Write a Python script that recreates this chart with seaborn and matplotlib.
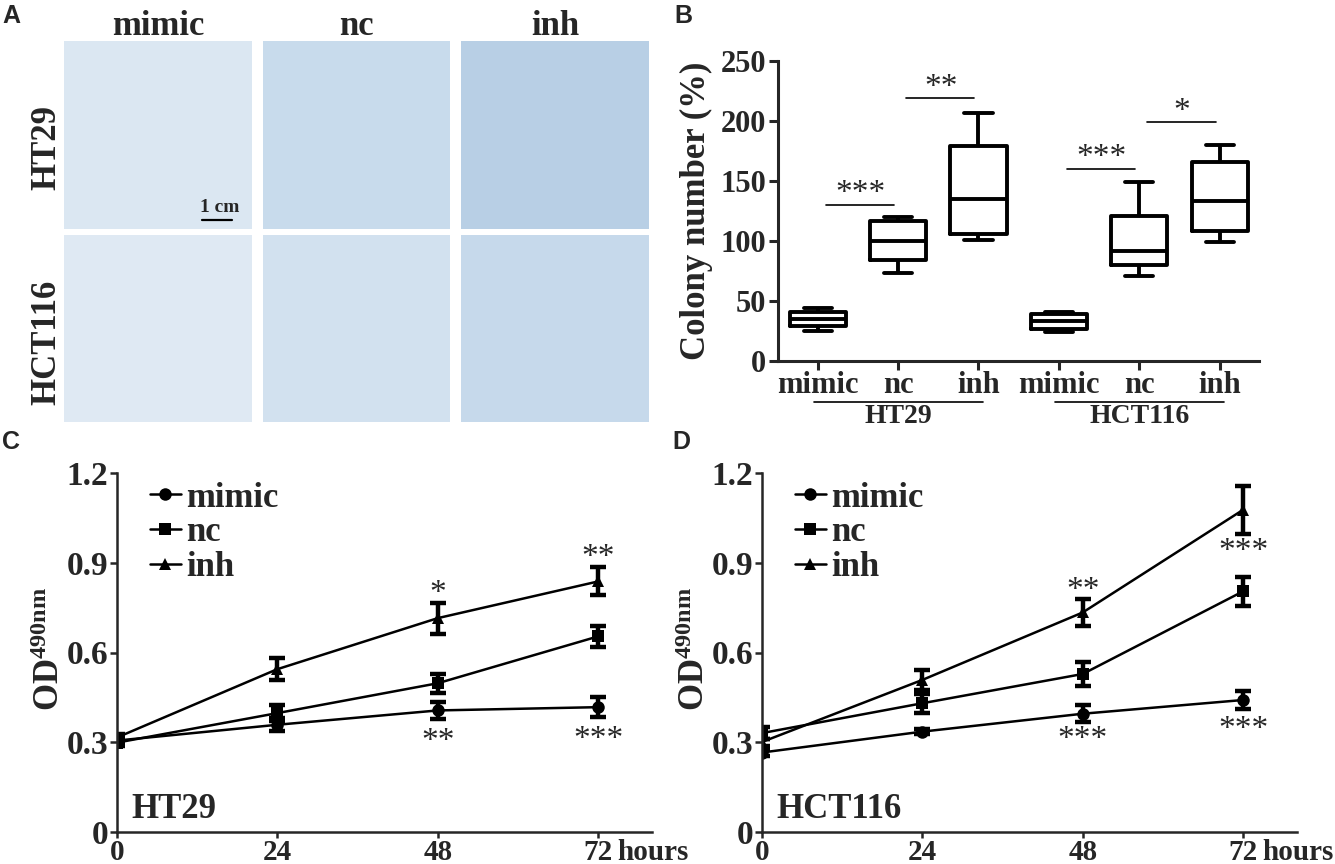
import numpy as np
import pandas as pd
import matplotlib
matplotlib.use("Agg")
import matplotlib.pyplot as plt
import matplotlib.transforms as mtransforms
from matplotlib.lines import Line2D
import seaborn as sns

# ---------------- data ----------------
groups = ["mimic", "nc", "inh"]
cell_lines = ["HT29", "HCT116"]

# panel B, colony number (%) as min, q1, median, q3, max per box
ht29_mimic_box = [25, 29, 35, 41, 44]
ht29_nc_box = [73, 84, 100, 117, 120]
ht29_inh_box = [101, 106, 135, 179, 207]
hct_mimic_box = [24, 27, 33, 39, 41]
hct_nc_box = [71, 80, 92, 121, 149]
hct_inh_box = [99, 108, 133, 166, 180]

# significance brackets in B: left box, right box, bracket height, label
sig_left = [0, 1, 3, 4]
sig_right = [1, 2, 4, 5]
sig_height = [130, 219, 160, 199]
sig_label = ["***", "**", "***", "*"]

# panels C and D, OD490 over time (mean and error)
hours = [0, 24, 48, 72]
ht29_mimic = [0.305, 0.358, 0.406, 0.417]
ht29_mimic_err = [0.010, 0.022, 0.027, 0.033]
ht29_nc = [0.298, 0.397, 0.497, 0.654]
ht29_nc_err = [0.010, 0.028, 0.031, 0.034]
ht29_inh = [0.315, 0.544, 0.715, 0.838]
ht29_inh_err = [0.012, 0.037, 0.052, 0.047]

hct_mimic = [0.265, 0.335, 0.395, 0.441]
hct_mimic_err = [0.012, 0.008, 0.028, 0.031]
hct_nc = [0.330, 0.430, 0.528, 0.805]
hct_nc_err = [0.020, 0.032, 0.039, 0.048]
hct_inh = [0.300, 0.508, 0.734, 1.078]
hct_inh_err = [0.012, 0.035, 0.044, 0.080]

# star annotations: time, height, label
ht29_star_x = [48, 72, 48, 72]
ht29_star_y = [0.821, 0.939, 0.324, 0.330]
ht29_star_txt = ["*", "**", "**", "***"]
hct_star_x = [48, 72, 48, 72]
hct_star_y = [0.830, 0.961, 0.330, 0.363]
hct_star_txt = ["**", "***", "***", "***"]

# ---------------- style ----------------
sns.set_style("ticks")
plt.rcParams["font.family"] = ["Liberation Serif", "DejaVu Serif"]
plt.rcParams["font.weight"] = "bold"
plt.rcParams["axes.labelweight"] = "bold"
plt.rcParams["mathtext.fontset"] = "custom"
plt.rcParams["mathtext.rm"] = "Liberation Serif:bold"
plt.rcParams["mathtext.it"] = "Liberation Serif:bold"
plt.rcParams["mathtext.bf"] = "Liberation Serif:bold"

W, H = 1335, 864
fig = plt.figure(figsize=(W / 100, H / 100), dpi=100)


def px_axes(x0, y0, x1, y1):
    # pixel box (top-left origin) -> figure axes
    return fig.add_axes([x0 / W, 1 - y1 / H, (x1 - x0) / W, (y1 - y0) / H])


def panel_letter(x, y, s):
    fig.text(x / W, 1 - y / H, s, fontfamily="Liberation Sans",
             fontweight="bold", fontsize=18, va="top", ha="left")


# ---------------- panel A (photo placeholders) ----------------
col_px = [(64, 252), (263, 450), (461, 649)]
row_px = [(41, 229), (235, 422)]
shades = [["#dbe7f2", "#c8dbec", "#b8cfe5"],
          ["#dfe9f3", "#d2e1ef", "#c6d9eb"]]
for r, (y0, y1) in enumerate(row_px):
    for c, (x0, x1) in enumerate(col_px):
        pa = px_axes(x0, y0, x1, y1)
        pa.set_facecolor(shades[r][c])
        pa.set_xticks([])
        pa.set_yticks([])
        for sp in pa.spines.values():
            sp.set_visible(False)
        if r == 0 and c == 0:
            pa.text(0.83, 0.112, "1 cm", transform=pa.transAxes, fontsize=14,
                    ha="center", va="center")
            pa.plot([0.734, 0.894], [0.048, 0.048], transform=pa.transAxes,
                    color="black", lw=1.6)
for c, (x0, x1) in enumerate(col_px):
    fig.text((x0 + x1) / 2 / W, 1 - 35 / H, groups[c], fontsize=25,
             ha="center", va="baseline")
fig.text(47 / W, 1 - 148 / H, cell_lines[0], fontsize=25, rotation=90,
         ha="center", va="center")
fig.text(47 / W, 1 - 342 / H, cell_lines[1], fontsize=25, rotation=90,
         ha="center", va="center")
panel_letter(2, 4, "A")

# ---------------- panel B ----------------
box_keys = [f"{cl} {g}" for cl in cell_lines for g in groups]
box_vals = [ht29_mimic_box, ht29_nc_box, ht29_inh_box,
            hct_mimic_box, hct_nc_box, hct_inh_box]
box_df = pd.DataFrame({
    "sample": np.repeat(box_keys, 5),
    "colony": np.concatenate(box_vals),
})

axb = px_axes(778, 61, 1258.5, 361)
sns.boxplot(data=box_df, x="sample", y="colony", order=box_keys,
            whis=(0, 100), width=0.7, fill=False, color="black",
            linewidth=2.8, ax=axb)
axb.set_xlim(-0.494, 5.483)
axb.set_ylim(0, 250)
axb.set_yticks([0, 50, 100, 150, 200, 250])
axb.set_xticks(range(6))
axb.set_xticklabels(groups * 2)
axb.set_xlabel("")
axb.set_ylabel("Colony number (%)", fontsize=25)
axb.yaxis.set_label_coords(-0.135, 0.5)
sns.despine(ax=axb)
for sp in ["left", "bottom"]:
    axb.spines[sp].set_linewidth(2.2)
axb.tick_params(axis="both", width=2.2, length=6.5, labelsize=22, pad=2)
axb.tick_params(axis="x", pad=1)

for x0, x1, yv, s in zip(sig_left, sig_right, sig_height, sig_label):
    axb.plot([x0 + 0.1, x1 - 0.05], [yv, yv], color="black", lw=1.2)
    axb.text((x0 + x1) / 2 + 0.03, yv + 9, s, ha="center", va="center",
             fontsize=24, fontweight="normal")

trans_b = mtransforms.blended_transform_factory(axb.transData, axb.transAxes)
for k, cl in enumerate(cell_lines):
    axb.plot([3 * k - 0.05, 3 * k + 2.06], [-0.136, -0.136], transform=trans_b,
             clip_on=False, color="black", lw=1.2)
    axb.text(3 * k + 1, -0.185, cl, transform=trans_b, ha="center",
             va="center", fontsize=20)
panel_letter(674, 4, "B")


# ---------------- panels C and D ----------------
def growth_panel(ax, means, errs, star_x, star_y, star_txt, name):
    df = pd.DataFrame({
        "hours": hours * 3,
        "od": np.concatenate(means),
        "group": np.repeat(groups, len(hours)),
    })
    sns.lineplot(data=df, x="hours", y="od", style="group", style_order=groups,
                 markers=["o", "s", "^"], dashes=False, color="black",
                 markersize=9, markeredgewidth=0, linewidth=1.8,
                 legend=False, ax=ax)
    for m, e in zip(means, errs):
        ax.errorbar(hours, m, yerr=e, fmt="none", ecolor="black",
                    elinewidth=3.2, capsize=5.5, capthick=3.2)
    for sx, sy, st in zip(star_x, star_y, star_txt):
        ax.annotate(st, xy=(sx, sy), xytext=(0, -5), textcoords="offset points",
                    ha="center", va="center", fontsize=24, fontweight="normal")
    ax.set_xlim(0, 80)
    ax.set_ylim(0, 1.2)
    ax.set_xticks(hours)
    ax.set_xticklabels([str(h) for h in hours])
    ax.set_yticks([0, 0.3, 0.6, 0.9, 1.2])
    ax.set_yticklabels(["0", "0.3", "0.6", "0.9", "1.2"])
    ax.set_xlabel("")
    ax.set_ylabel(r"OD$^{\mathrm{490nm}}$", fontsize=25)
    ax.yaxis.set_label_coords(-0.093, 0.51)
    sns.despine(ax=ax)
    for sp in ["left", "bottom"]:
        ax.spines[sp].set_linewidth(1.8)
    ax.tick_params(axis="y", width=1.8, length=5, labelsize=24, pad=1)
    ax.tick_params(axis="x", width=1.8, length=4.5, labelsize=21, pad=0.5)
    ax.annotate("hours", xy=(72, 0), xycoords="data", xytext=(13.5, -5.5),
                textcoords="offset points", ha="left", va="top", fontsize=21)
    ax.text(0.028, 0.037, name, transform=ax.transAxes, ha="left",
            va="baseline", fontsize=25)
    handles = [Line2D([], [], color="black", marker=mk, lw=1.8, ms=9,
                      markeredgewidth=0) for mk in ["o", "s", "^"]]
    ax.legend(handles, groups, loc="upper left", bbox_to_anchor=(0.062, 0.977),
              frameon=False, fontsize=25, handlelength=0.9,
              handletextpad=0.15, labelspacing=0.05, borderpad=0,
              borderaxespad=0)


axc = px_axes(116.7, 473.3, 651.7, 831.7)
growth_panel(axc, [ht29_mimic, ht29_nc, ht29_inh],
             [ht29_mimic_err, ht29_nc_err, ht29_inh_err],
             ht29_star_x, ht29_star_y, ht29_star_txt, "HT29")
panel_letter(2, 430, "C")

axd = px_axes(761.7, 473.3, 1296.7, 831.7)
growth_panel(axd, [hct_mimic, hct_nc, hct_inh],
             [hct_mimic_err, hct_nc_err, hct_inh_err],
             hct_star_x, hct_star_y, hct_star_txt, "HCT116")
panel_letter(672, 430, "D")

fig.savefig("out.png", dpi=100)
